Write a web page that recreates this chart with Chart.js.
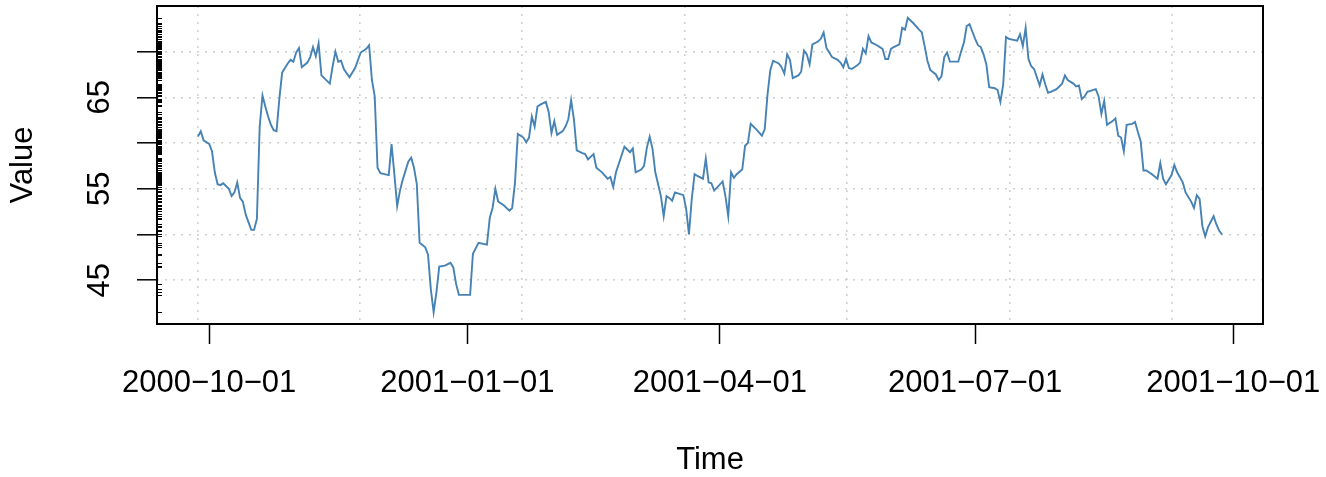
<!DOCTYPE html>
<html>
<head>
<meta charset="utf-8">
<title>Value over time</title>
<script src="https://cdn.jsdelivr.net/npm/chart.js@4.4.1/dist/chart.umd.min.js"></script>
<style>
  html, body { margin: 0; padding: 0; background: #ffffff; }
  #wrap { width: 1326px; height: 477px; }
</style>
</head>
<body>
<div id="wrap"><canvas id="valueChart" width="1326" height="477"></canvas></div>
<script>
// --- Data ---
const dates = [
  '2000-09-27', '2000-09-28', '2000-09-29', '2000-10-01', '2000-10-02', '2000-10-03', '2000-10-04', '2000-10-05',
  '2000-10-06', '2000-10-08', '2000-10-09', '2000-10-10', '2000-10-11', '2000-10-12', '2000-10-13', '2000-10-14',
  '2000-10-16', '2000-10-17', '2000-10-18', '2000-10-19', '2000-10-20', '2000-10-21', '2000-10-22', '2000-10-23',
  '2000-10-24', '2000-10-25', '2000-10-26', '2000-10-27', '2000-10-28', '2000-10-29', '2000-10-30', '2000-10-31',
  '2000-11-01', '2000-11-02', '2000-11-03', '2000-11-05', '2000-11-06', '2000-11-07', '2000-11-08', '2000-11-09',
  '2000-11-10', '2000-11-13', '2000-11-14', '2000-11-15', '2000-11-16', '2000-11-17', '2000-11-18', '2000-11-20',
  '2000-11-22', '2000-11-24', '2000-11-26', '2000-11-27', '2000-11-28', '2000-11-29', '2000-11-30', '2000-12-01',
  '2000-12-04', '2000-12-05', '2000-12-06', '2000-12-07', '2000-12-08', '2000-12-09', '2000-12-11', '2000-12-12',
  '2000-12-13', '2000-12-14', '2000-12-15', '2000-12-17', '2000-12-18', '2000-12-19', '2000-12-20', '2000-12-21',
  '2000-12-22', '2000-12-24', '2000-12-26', '2000-12-27', '2000-12-28', '2000-12-29', '2001-01-02', '2001-01-03',
  '2001-01-05', '2001-01-08', '2001-01-09', '2001-01-10', '2001-01-11', '2001-01-12', '2001-01-14', '2001-01-16',
  '2001-01-17', '2001-01-18', '2001-01-19', '2001-01-21', '2001-01-22', '2001-01-23', '2001-01-24', '2001-01-25',
  '2001-01-26', '2001-01-27', '2001-01-29', '2001-01-30', '2001-01-31', '2001-02-01', '2001-02-02', '2001-02-04',
  '2001-02-05', '2001-02-06', '2001-02-07', '2001-02-08', '2001-02-09', '2001-02-11', '2001-02-12', '2001-02-13',
  '2001-02-15', '2001-02-16', '2001-02-18', '2001-02-20', '2001-02-21', '2001-02-22', '2001-02-23', '2001-02-26',
  '2001-02-27', '2001-02-28', '2001-03-01', '2001-03-02', '2001-03-04', '2001-03-05', '2001-03-06', '2001-03-07',
  '2001-03-08', '2001-03-09', '2001-03-11', '2001-03-12', '2001-03-13', '2001-03-14', '2001-03-15', '2001-03-16',
  '2001-03-19', '2001-03-20', '2001-03-21', '2001-03-22', '2001-03-23', '2001-03-24', '2001-03-26', '2001-03-27',
  '2001-03-28', '2001-03-29', '2001-03-30', '2001-04-02', '2001-04-03', '2001-04-04', '2001-04-05', '2001-04-06',
  '2001-04-07', '2001-04-09', '2001-04-10', '2001-04-11', '2001-04-12', '2001-04-14', '2001-04-16', '2001-04-17',
  '2001-04-18', '2001-04-19', '2001-04-20', '2001-04-22', '2001-04-23', '2001-04-24', '2001-04-25', '2001-04-26',
  '2001-04-27', '2001-04-29', '2001-04-30', '2001-05-01', '2001-05-02', '2001-05-03', '2001-05-04', '2001-05-06',
  '2001-05-07', '2001-05-08', '2001-05-09', '2001-05-11', '2001-05-13', '2001-05-14', '2001-05-15', '2001-05-16',
  '2001-05-17', '2001-05-18', '2001-05-20', '2001-05-21', '2001-05-22', '2001-05-23', '2001-05-24', '2001-05-25',
  '2001-05-27', '2001-05-29', '2001-05-30', '2001-05-31', '2001-06-01', '2001-06-02', '2001-06-04', '2001-06-05',
  '2001-06-06', '2001-06-07', '2001-06-09', '2001-06-11', '2001-06-12', '2001-06-13', '2001-06-14', '2001-06-15',
  '2001-06-17', '2001-06-18', '2001-06-19', '2001-06-20', '2001-06-21', '2001-06-22', '2001-06-25', '2001-06-26',
  '2001-06-27', '2001-06-28', '2001-06-29', '2001-06-30', '2001-07-01', '2001-07-02', '2001-07-03', '2001-07-04',
  '2001-07-05', '2001-07-06', '2001-07-08', '2001-07-09', '2001-07-10', '2001-07-11', '2001-07-12', '2001-07-13',
  '2001-07-16', '2001-07-17', '2001-07-18', '2001-07-19', '2001-07-20', '2001-07-21', '2001-07-22', '2001-07-23',
  '2001-07-24', '2001-07-25', '2001-07-26', '2001-07-27', '2001-07-28', '2001-07-30', '2001-08-01', '2001-08-02',
  '2001-08-03', '2001-08-05', '2001-08-06', '2001-08-07', '2001-08-08', '2001-08-09', '2001-08-10', '2001-08-13',
  '2001-08-14', '2001-08-15', '2001-08-16', '2001-08-17', '2001-08-19', '2001-08-20', '2001-08-21', '2001-08-22',
  '2001-08-23', '2001-08-24', '2001-08-26', '2001-08-27', '2001-08-28', '2001-08-29', '2001-08-30', '2001-08-31',
  '2001-09-02', '2001-09-04', '2001-09-05', '2001-09-06', '2001-09-07', '2001-09-09', '2001-09-10', '2001-09-11',
  '2001-09-13', '2001-09-14', '2001-09-16', '2001-09-17', '2001-09-18', '2001-09-19', '2001-09-20', '2001-09-21',
  '2001-09-22', '2001-09-24', '2001-09-25', '2001-09-26', '2001-09-27'
];

const values = [
  60.7, 61.3, 60.3, 59.9, 59.1, 56.8, 55.5, 55.4,
  55.6, 55.0, 54.2, 54.6, 55.7, 54.0, 53.6, 52.2,
  50.5, 50.5, 51.7, 61.8, 65.2, 64.0, 62.9, 62.0,
  61.4, 61.3, 64.8, 67.7, 68.2, 68.7, 69.1, 68.9,
  69.9, 70.4, 68.3, 68.8, 69.4, 70.5, 69.5, 70.9,
  67.4, 66.5, 68.4, 70.0, 68.9, 69.0, 68.1, 67.2,
  68.2, 69.9, 70.3, 70.7, 66.9, 65.1, 57.3, 56.7,
  56.5, 59.9, 56.6, 53.1, 54.8, 56.0, 58.0, 58.4,
  57.3, 55.5, 49.1, 48.6, 47.8, 44.0, 41.5, 43.7,
  46.5, 46.6, 46.9, 46.4, 44.6, 43.4, 43.4, 47.9,
  49.1, 48.9, 51.8, 52.9, 55.0, 53.6, 53.2, 52.6,
  52.9, 55.7, 61.0, 60.6, 60.1, 60.6, 62.9, 61.8,
  64.0, 64.2, 64.5, 63.4, 61.1, 62.4, 60.9, 61.3,
  61.8, 62.6, 64.7, 62.6, 59.2, 58.9, 58.8, 58.2,
  58.8, 57.3, 56.8, 56.1, 56.3, 55.2, 56.8, 59.6,
  59.3, 59.0, 59.4, 56.8, 57.1, 57.5, 59.5, 60.7,
  59.4, 56.8, 54.2, 52.0, 54.2, 54.0, 53.7, 54.6,
  54.3, 52.8, 50.0, 53.9, 56.6, 56.4, 56.1, 58.3,
  55.7, 55.6, 54.8, 55.8, 54.2, 52.0, 56.8, 56.2,
  56.6, 57.1, 59.7, 60.0, 62.1, 61.5, 60.8, 61.5,
  65.3, 68.0, 69.0, 68.7, 68.3, 67.6, 69.7, 69.1,
  67.1, 67.4, 67.8, 70.1, 69.7, 68.6, 70.8, 71.1,
  71.4, 72.1, 70.4, 69.4, 69.1, 68.8, 68.3, 69.2,
  68.2, 68.1, 68.5, 68.8, 70.3, 69.8, 71.7, 71.0,
  70.7, 70.3, 69.2, 69.2, 70.3, 70.5, 70.8, 72.6,
  72.4, 73.7, 73.1, 72.4, 72.1, 70.6, 69.0, 68.0,
  67.5, 66.9, 67.3, 69.4, 69.9, 68.9, 68.9, 70.0,
  71.0, 72.8, 73.0, 72.2, 71.4, 70.7, 70.5, 69.7,
  68.6, 66.1, 66.0, 65.8, 64.5, 66.4, 71.6, 71.4,
  71.2, 71.9, 70.6, 72.6, 69.2, 68.4, 68.1, 67.2,
  66.3, 67.5, 66.4, 65.5, 65.6, 65.9, 66.5, 67.4,
  66.9, 66.5, 66.2, 66.3, 64.8, 65.1, 65.6, 65.9,
  65.1, 63.2, 64.6, 62.0, 62.4, 62.7, 60.8, 60.6,
  59.1, 62.0, 62.1, 62.3, 61.2, 60.2, 57.0, 57.0,
  56.6, 56.1, 57.8, 56.1, 55.5, 56.5, 57.6, 56.8,
  55.7, 54.6, 53.6, 52.9, 54.3, 53.9, 50.9, 49.8,
  50.8, 52.0, 51.1, 50.4, 50.0
];

// labelled ticks on the time axis
const xTickDates = ['2000-10-01', '2001-01-01', '2001-04-01', '2001-07-01', '2001-10-01'];
const xTickLabels = ['2000-10-01', '2001-01-01', '2001-04-01', '2001-07-01', '2001-10-01'];
// dotted vertical grid (R puts it at pretty values of the time in seconds)
const xGridSeconds = [970e6, 975e6, 980e6, 985e6, 990e6, 995e6, 1000e6];

// ticks on the value axis (R drops every other label because they would overlap)
const yTicks = [45, 50, 55, 60, 65, 70];
const yTickLabels = ['45', '', '55', '', '65', ''];

// --- Helpers ---
const FONT = "'Liberation Sans', Arial, Helvetica, sans-serif";
const toDay = s => Date.parse(s + 'T00:00:00Z') / 86400000;

const days = dates.map(toDay);
const points = days.map((d, i) => ({ x: d, y: values[i] }));

// R extends the data range by 4% on each side
const xSpan = days[days.length - 1] - days[0];
const xMin = days[0] - 0.04 * xSpan;
const xMax = days[days.length - 1] + 0.04 * xSpan;
const yLow = Math.min(...values);
const yHigh = Math.max(...values);
const ySpan = yHigh - yLow;
const yMin = yLow - 0.04 * ySpan;
const yMax = yHigh + 0.04 * ySpan;

// grid lines: light grey dots
const GRID = { color: '#cfcfcf', lineWidth: 1.6, dash: [2, 6] };

// rug along the left side + box around the plot
const framePlugin = {
    id: 'frame',
    afterDatasetsDraw(chart) {
        const { ctx, chartArea: a, scales } = chart;
        ctx.save();
        ctx.strokeStyle = '#000';
        ctx.lineWidth = 1;
        ctx.beginPath();
        values.forEach(v => {
            const py = Math.round(scales.y.getPixelForValue(v)) + 0.5;
            ctx.moveTo(a.left, py);
            ctx.lineTo(a.left + 5, py);
        });
        ctx.stroke();
        ctx.lineWidth = 2;
        ctx.strokeRect(a.left, a.top, a.right - a.left, a.bottom - a.top);
        ctx.restore();
    }
};

// --- Chart ---
const ctx = document.getElementById('valueChart').getContext('2d');

const valueChart = new Chart(ctx, {
    type: 'line',
    data: {
        datasets: [{
            label: 'Value',
            data: points,
            borderColor: '#4682B4', // steelblue
            borderWidth: 1.9,
            pointRadius: 0,
            tension: 0,
            fill: false
        }]
    },
    options: {
        responsive: false,
        animation: false,
        devicePixelRatio: 1,
        layout: { padding: { top: 6, right: 63, bottom: 0, left: 0 } },
        plugins: {
            legend: { display: false },
            tooltip: { enabled: false }
        },
        scales: {
            x: {
                type: 'linear',
                position: 'bottom',
                min: xMin,
                max: xMax,
                afterBuildTicks: s => { s.ticks = xTickDates.map(d => ({ value: toDay(d) })); },
                afterFit: s => { s.height = 153; s.paddingLeft = 0; s.paddingRight = 0; },
                grid: { drawOnChartArea: false, drawTicks: true, tickLength: 20, tickColor: '#000', tickWidth: 1.5 },
                border: { display: false },
                ticks: {
                    autoSkip: false,
                    maxRotation: 0,
                    minRotation: 0,
                    padding: 21,
                    color: '#000',
                    font: { family: FONT, size: 31 },
                    // R prints the hyphens of the dates as minus signs
                    callback: (v, i) => xTickLabels[i].replace(/-/g, '\u2212')
                },
                title: {
                    display: true,
                    text: 'Time',
                    color: '#000',
                    font: { family: FONT, size: 31, lineHeight: 1 },
                    padding: { top: 0, bottom: 1.5 }
                }
            },
            xGrid: {
                type: 'linear',
                axis: 'x',
                position: 'bottom',
                min: xMin,
                max: xMax,
                afterBuildTicks: s => { s.ticks = xGridSeconds.map(t => ({ value: t / 86400 })); },
                afterFit: s => { s.height = 0; s.paddingLeft = 0; s.paddingRight = 0; },
                grid: { color: GRID.color, lineWidth: GRID.lineWidth, drawTicks: false },
                // in Chart.js v4 the dash of the grid lines comes from border.dash
                border: { display: false, dash: GRID.dash },
                ticks: { display: false }
            },
            y: {
                type: 'linear',
                min: yMin,
                max: yMax,
                afterBuildTicks: s => { s.ticks = yTicks.map(v => ({ value: v })); },
                afterFit: s => { s.width = 157; s.paddingTop = 0; s.paddingBottom = 0; },
                grid: {
                    color: GRID.color,
                    lineWidth: GRID.lineWidth,
                    tickLength: 20,
                    tickColor: '#000',
                    tickWidth: 1.5,
                    tickBorderDash: []
                },
                border: { display: false, dash: GRID.dash },
                ticks: {
                    autoSkip: false,
                    minRotation: 90,
                    maxRotation: 90,
                    crossAlign: 'center',
                    padding: 19,
                    color: '#000',
                    font: { family: FONT, size: 31 },
                    callback: (v, i) => yTickLabels[i]
                },
                title: {
                    display: true,
                    text: 'Value',
                    color: '#000',
                    font: { family: FONT, size: 31, lineHeight: 1 },
                    padding: { top: 8, bottom: 0 }
                }
            }
        }
    },
    plugins: [framePlugin]
});
</script>
</body>
</html>
